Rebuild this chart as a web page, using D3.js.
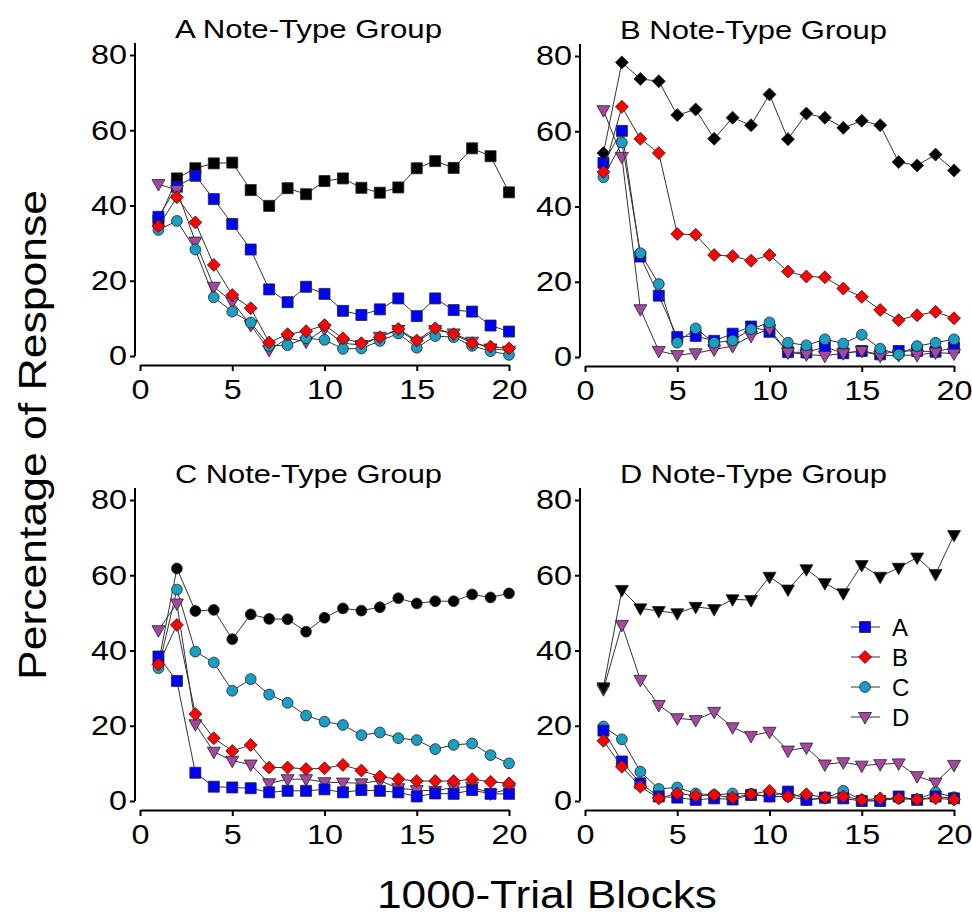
<!DOCTYPE html>
<html>
<head>
<meta charset="utf-8">
<script src="https://cdn.jsdelivr.net/npm/d3@7"></script>
<style>
  body { margin: 0; background: #fff; }
  text { font-family: "Liberation Sans", Arial, Helvetica, sans-serif; fill: #000; }
</style>
</head>
<body>
<div id="chart"></div>
<script>
// trial blocks (x)
var blocks = [1, 2, 3, 4, 5, 6, 7, 8, 9, 10, 11, 12, 13, 14, 15, 16, 17, 18, 19, 20];
var yTicks = [0, 20, 40, 60, 80];
var xTicks = [0, 5, 10, 15, 20];
var noteTypes = ["A", "B", "C", "D"];
var groupTitles = ["A Note-Type Group", "B Note-Type Group", "C Note-Type Group", "D Note-Type Group"];

// A group
var aBlack = [36, 47.2, 49.9, 51.2, 51.4, 44.1, 39.9, 44.6, 43.0, 46.5, 47.2, 44.7, 43.4, 44.8, 49.9, 51.8, 50.0, 55.2, 53.1, 43.5];
var aRespA = [37.0, 45.0, 47.9, 41.7, 35.1, 28.3, 17.7, 14.3, 18.4, 16.5, 12.0, 10.9, 12.4, 15.3, 10.6, 15.3, 12.2, 11.8, 8.1, 6.5];
var aRespB = [34.5, 42.2, 35.5, 24.2, 16.2, 12.7, 3.6, 5.8, 6.6, 8.2, 4.7, 3.4, 5.0, 7.2, 4.1, 7.4, 5.8, 3.4, 2.5, 2.0];
var aRespC = [33.5, 35.9, 28.3, 15.6, 11.8, 8.9, 2.7, 2.9, 4.7, 4.3, 1.9, 2.0, 4.0, 6.0, 2.2, 5.3, 5.0, 2.7, 1.3, 0.3];
var aRespD = [45.7, 44.1, 30.4, 18.4, 14.4, 8.2, 1.6, 4.7, 3.8, 7.2, 3.4, 2.9, 5.1, 6.9, 3.8, 6.9, 6.0, 3.8, 2.0, 1.4];

// B group
var bBlack = [54.2, 78.3, 73.9, 73.3, 64.3, 65.8, 58.0, 63.6, 61.6, 69.8, 57.9, 64.7, 63.6, 60.9, 62.8, 61.6, 51.8, 50.9, 53.8, 49.6];
var bRespA = [51.6, 60.1, 26.7, 16.3, 5.3, 5.6, 4.3, 6.2, 8.1, 6.7, 1.3, 1.2, 2.7, 1.0, 1.6, 0.7, 1.6, 1.6, 1.4, 2.5];
var bRespB = [49.2, 66.5, 58.0, 54.2, 32.7, 32.5, 27.1, 26.8, 25.6, 27.1, 22.7, 21.4, 21.2, 18.2, 16.0, 12.5, 9.8, 11.1, 12.0, 10.3];
var bRespC = [47.8, 57.0, 27.6, 19.4, 3.8, 7.6, 3.8, 4.4, 7.4, 9.2, 3.8, 3.1, 4.7, 3.6, 5.9, 2.2, 0.7, 2.9, 3.8, 4.7];
var bRespD = [65.6, 53.2, 12.7, 1.6, 0.5, 1.0, 2.0, 2.9, 5.6, 7.4, 1.2, 0.7, 0.3, 1.0, 1.6, 0.3, 0.5, 0.5, 1.2, 0.9];

// C group
var cBlack = [36.6, 61.8, 50.5, 50.8, 43.0, 49.6, 48.4, 48.3, 45.0, 48.7, 51.2, 50.6, 51.5, 53.9, 52.5, 53.1, 53.1, 54.9, 54.1, 55.2];
var cRespA = [38.4, 31.9, 7.5, 3.8, 3.6, 3.4, 2.3, 2.7, 2.7, 3.1, 2.3, 2.9, 2.7, 2.3, 1.2, 2.0, 1.9, 2.9, 1.9, 1.9];
var cRespB = [36.3, 46.8, 23.1, 16.7, 13.3, 14.9, 8.9, 8.9, 8.5, 8.7, 9.6, 8.1, 6.5, 5.8, 5.3, 5.3, 5.3, 5.8, 5.1, 4.7];
var cRespC = [35.3, 56.2, 39.7, 36.8, 29.3, 32.4, 28.3, 26.1, 22.7, 21.1, 20.2, 17.5, 18.2, 16.7, 16.2, 13.8, 14.9, 15.3, 12.2, 10.0];
var cRespD = [45.4, 52.5, 20.4, 13.1, 10.7, 9.7, 4.7, 5.8, 5.8, 5.0, 4.9, 4.7, 5.4, 3.4, 2.9, 2.7, 3.6, 3.8, 2.0, 3.1];

// D group
var dBlack = [30.2, 56.1, 51.2, 50.5, 49.9, 51.6, 51.0, 53.6, 53.4, 59.6, 56.2, 61.6, 57.9, 55.2, 62.7, 59.6, 62.0, 64.7, 60.3, 70.7];
var dRespA = [18.7, 10.5, 4.7, 1.2, 0.9, 0.3, 0.7, 0.4, 1.6, 1.2, 2.5, 0.3, 0.9, 0.7, 0.0, 0.0, 1.2, 0.3, 1.2, 0.7];
var dRespB = [16.0, 9.1, 3.8, 0.7, 2.0, 1.4, 1.6, 0.9, 1.8, 2.7, 1.2, 1.8, 0.9, 1.2, 0.3, 0.7, 0.7, 0.4, 0.7, 0.4];
var dRespC = [19.8, 16.4, 7.8, 3.2, 3.6, 2.0, 1.6, 2.0, 1.9, 1.2, 1.2, 0.3, 0.7, 2.7, 0.3, 0.1, 0.7, 0.4, 2.3, 1.0];
var dRespD = [29.7, 46.8, 32.2, 25.5, 22.0, 21.5, 23.7, 19.6, 17.3, 18.4, 13.4, 14.2, 9.7, 10.3, 9.4, 9.8, 10.0, 6.6, 4.9, 9.6];

const colors = { A: "#0000ff", B: "#ff0000", C: "#1b9ec4", D: "#a4489f" };

// marker shapes
function shapePath(shape) {
  if (shape == "A") return "M-5.5,-5.5H5.5V5.5H-5.5Z";
  if (shape == "B") return "M0,-6.5L6.5,0L0,6.5L-6.5,0Z";
  if (shape == "C") return d3.symbol().type(d3.symbolCircle).size(Math.PI * 5.4 * 5.4)();
  return "M-6.5,-4.5L6.5,-4.5L0,7Z";
}

var panels = [
  { title: groupTitles[0], shape: "A", left: 140, top: 55,
    series: [["black", aBlack], ["A", aRespA], ["D", aRespD], ["C", aRespC], ["B", aRespB]] },
  { title: groupTitles[1], shape: "B", left: 585, top: 56,
    series: [["black", bBlack], ["A", bRespA], ["D", bRespD], ["C", bRespC], ["B", bRespB]] },
  { title: groupTitles[2], shape: "C", left: 140, top: 500,
    series: [["black", cBlack], ["C", cRespC], ["D", cRespD], ["A", cRespA], ["B", cRespB]] },
  { title: groupTitles[3], shape: "D", left: 585, top: 500,
    series: [["D", dRespD], ["C", dRespC], ["A", dRespA], ["B", dRespB], ["black", dBlack]] }
];

const svg = d3.select("#chart")
  .append("svg")
  .attr("width", 972)
  .attr("height", 917);

panels.forEach(function (p) {
  var x = d3.scaleLinear().domain([0, 20]).range([p.left, p.left + 369]);
  var y = d3.scaleLinear().domain([0, 80]).range([p.top + 301, p.top]);
  var g = svg.append("g");

  // title
  g.append("text")
    .attr("x", x(10) - 16)
    .attr("y", p.top - 17)
    .attr("text-anchor", "middle")
    .attr("textLength", 267)
    .attr("lengthAdjust", "spacingAndGlyphs")
    .style("font-size", "26px")
    .text(p.title);

  // y axis
  var yAxis = g.append("g")
    .attr("transform", "translate(" + (p.left - 5) + ",0)")
    .call(d3.axisLeft(y).tickValues(yTicks).tickSize(5).tickSizeOuter(0).tickPadding(3));
  yAxis.select(".domain").attr("d", "M0," + y(0) + "V" + (y(80) - 12));

  // x axis
  var xAxis = g.append("g")
    .attr("transform", "translate(0," + (y(0) + 9) + ")")
    .call(d3.axisBottom(x).tickValues(xTicks).tickSize(6).tickSizeOuter(0).tickPadding(8));

  g.selectAll(".domain, .tick line").attr("stroke", "#000").attr("stroke-width", 2);
  // digits in the reference are a bit wider than the font
  g.selectAll(".tick text")
    .style("font-size", "28px")
    .attr("fill", "#000")
    .attr("textLength", function (d) { return String(d).length * 18; })
    .attr("lengthAdjust", "spacingAndGlyphs");

  var line = d3.line()
    .x(function (d, i) { return x(blocks[i]); })
    .y(function (d) { return y(d); });

  p.series.forEach(function (s) {
    var key = s[0], vals = s[1];
    var fill = key == "black" ? "#000" : colors[key];
    var shape = key == "black" ? p.shape : key;

    g.append("path")
      .datum(vals)
      .attr("d", line)
      .attr("fill", "none")
      .attr("stroke", "#333")
      .attr("stroke-width", 1);

    g.append("g")
      .selectAll("path")
      .data(vals)
      .enter().append("path")
      .attr("transform", function (d, i) { return "translate(" + x(blocks[i]) + "," + y(d) + ")"; })
      .attr("d", shapePath(shape))
      .attr("fill", fill)
      .attr("stroke", "#222")
      .attr("stroke-width", 0.8);
  });
});

// legend (in D panel)
var legend = svg.append("g");
noteTypes.forEach(function (t, i) {
  var ly = 627 + 30 * i;
  legend.append("line")
    .attr("x1", 851).attr("x2", 880)
    .attr("y1", ly).attr("y2", ly)
    .attr("stroke", "#333").attr("stroke-width", 1);
  legend.append("path")
    .attr("transform", "translate(865," + ly + ")")
    .attr("d", shapePath(t))
    .attr("fill", colors[t])
    .attr("stroke", "#222")
    .attr("stroke-width", 0.8);
  legend.append("text")
    .attr("x", 892).attr("y", ly)
    .attr("dy", "0.36em")
    .style("font-size", "24px")
    .text(t);
});

// axis labels
svg.append("text")
  .attr("transform", "translate(46,435) rotate(-90)")
  .attr("text-anchor", "middle")
  .attr("textLength", 490)
  .attr("lengthAdjust", "spacingAndGlyphs")
  .style("font-size", "39px")
  .text("Percentage of Response");

svg.append("text")
  .attr("x", 547)
  .attr("y", 908)
  .attr("text-anchor", "middle")
  .attr("textLength", 340)
  .attr("lengthAdjust", "spacingAndGlyphs")
  .style("font-size", "38px")
  .text("1000-Trial Blocks");
</script>
</body>
</html>
